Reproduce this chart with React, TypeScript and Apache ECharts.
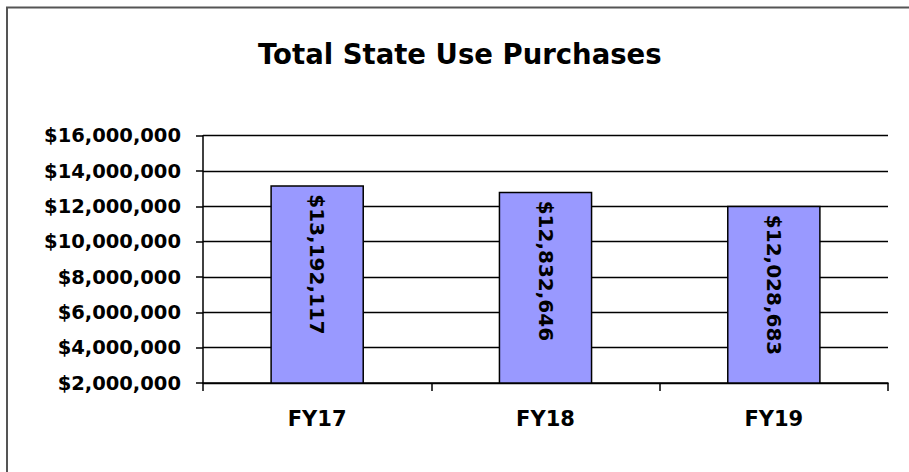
import React, { useEffect, useRef } from "react";
import * as echarts from "echarts";

const categories = ["FY17", "FY18", "FY19"];
const purchases = [13192117, 12832646, 12028683];
const yMin = 2000000;
const yMax = 16000000;
const yStep = 2000000;
const titleText = "Total State Use Purchases";

const FONT = "DejaVu Sans";

function money(v: number): string {
  return "$" + Math.round(v).toLocaleString("en-US");
}

export default function App() {
  const ref = useRef<HTMLDivElement>(null);
  useEffect(() => {
    if (!ref.current) return;
    const chart = echarts.init(ref.current, undefined, { renderer: "svg" });
    chart.setOption({
      animation: false,
      backgroundColor: "#ffffff",
      title: {
        text: titleText,
        left: 258,
        top: 40,
        padding: 0,
        textStyle: {
          fontFamily: FONT,
          fontWeight: "bold",
          fontSize: 27.5,
          color: "#000",
        },
      },
      graphic: [
        {
          type: "polyline",
          silent: true,
          shape: { points: [[7, 472], [7, 7.5], [909, 7.5]] },
          style: { stroke: "#555", lineWidth: 2, fill: "none" },
        },
      ],
      grid: { left: 203, top: 135.7, right: 21, bottom: 89, containLabel: false },
      xAxis: {
        type: "category",
        data: categories,
        axisLine: { show: true, lineStyle: { color: "#000", width: 1.5 } },
        axisTick: { show: true, alignWithLabel: false, length: 8, lineStyle: { color: "#000", width: 1.5 } },
        axisLabel: {
          margin: 25,
          fontFamily: FONT,
          fontWeight: "bold",
          fontSize: 21,
          color: "#000",
        },
        splitLine: { show: false },
      },
      yAxis: {
        type: "value",
        min: yMin,
        max: yMax,
        interval: yStep,
        axisLine: { show: true, lineStyle: { color: "#000", width: 1.5 } },
        axisTick: { show: true, length: 7, lineStyle: { color: "#000", width: 1.5 } },
        axisLabel: {
          margin: 22,
          fontFamily: FONT,
          fontWeight: "bold",
          fontSize: 19.5,
          color: "#000",
          formatter: (v: number) => money(v),
        },
        splitLine: { show: true, lineStyle: { color: "#000", width: 1.3 } },
      },
      series: [
        {
          type: "bar",
          data: purchases,
          barWidth: "41%",
          itemStyle: { color: "#9999FF", borderColor: "#000", borderWidth: 1.5 },
          label: {
            show: true,
            position: "insideTop",
            rotate: -90,
            align: "left",
            verticalAlign: "middle",
            distance: 9,
            fontFamily: FONT,
            fontWeight: "bold",
            fontSize: 20,
            color: "#000",
            formatter: (p: any) => money(p.value),
          },
        },
      ],
    });
    return () => chart.dispose();
  }, []);
  return (
    <div
      ref={ref}
      style={{ position: "fixed", left: 0, top: 0, width: 909, height: 472 }}
    />
  );
}
